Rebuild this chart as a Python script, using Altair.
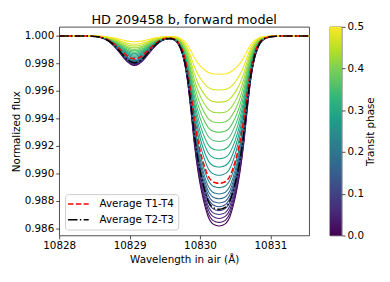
import altair as alt
import pandas as pd

# Wavelength grid (Å, in air) and normalized absorption shape
wavelength = [10828.00, 10828.20, 10828.32, 10828.42, 10828.47, 10828.52, 10828.57, 10828.62,
              10828.67, 10828.72, 10828.77, 10828.82, 10828.87, 10828.92, 10828.97, 10829.02,
              10829.07, 10829.12, 10829.17, 10829.22, 10829.27, 10829.32, 10829.37, 10829.42,
              10829.47, 10829.52, 10829.57, 10829.62, 10829.67, 10829.72, 10829.77, 10829.82,
              10829.87, 10829.92, 10829.97, 10830.02, 10830.07, 10830.12, 10830.17, 10830.22,
              10830.27, 10830.32, 10830.37, 10830.42, 10830.47, 10830.52, 10830.57, 10830.62,
              10830.67, 10830.72, 10830.77, 10830.82, 10830.87, 10830.92, 10830.97, 10831.02,
              10831.07, 10831.12, 10831.17, 10831.22, 10831.40, 10831.55]
profile = [0.0, 0.0, 0.0001, 0.0008, 0.0017, 0.0035, 0.0068, 0.0123,
           0.0210, 0.0335, 0.0503, 0.0710, 0.0940, 0.1170, 0.1368, 0.1502,
           0.1550, 0.1502, 0.1368, 0.1170, 0.0940, 0.0710, 0.0508, 0.0345,
           0.0230, 0.0163, 0.0148, 0.0185, 0.0317, 0.0658, 0.125, 0.23,
           0.39, 0.57, 0.71, 0.815, 0.895, 0.955, 0.985, 0.996,
           1.0, 0.996, 0.985, 0.955, 0.895, 0.815, 0.71, 0.57,
           0.39, 0.23, 0.125, 0.065, 0.03, 0.015, 0.008, 0.004,
           0.002, 0.001, 0.0005, 0.0, 0.0, 0.0]

# Transit phases and the minimum flux of the main line for each
phases = [0.0, 0.025, 0.05, 0.075, 0.1, 0.125, 0.15, 0.175, 0.2, 0.225, 0.25,
          0.275, 0.3, 0.325, 0.35, 0.375, 0.4, 0.425, 0.45, 0.475, 0.5]
min_flux = [0.98617, 0.98643, 0.98672, 0.98700, 0.98729, 0.98757, 0.98784, 0.98815,
            0.98850, 0.98896, 0.98986, 0.99046, 0.99106, 0.99168, 0.99232, 0.99299,
            0.99368, 0.99440, 0.99518, 0.99606, 0.99721]

avg_labels = ["Average T1-T4", "Average T2-T3"]
avg_min = [0.98927, 0.98738]
avg_colors = ["red", "black"]

x_ticks = [10828, 10829, 10830, 10831]
y_ticks = [0.986, 0.988, 0.990, 0.992, 0.994, 0.996, 0.998, 1.000]
cbar_ticks = [0.0, 0.1, 0.2, 0.3, 0.4, 0.5]
viridis = ["#440154", "#482878", "#3e4989", "#31688e", "#26828e",
           "#1f9e89", "#35b779", "#6ece58", "#b5de2b", "#fde725"]

rows = []
for ph, mn in zip(phases, min_flux):
    for w, p in zip(wavelength, profile):
        rows.append({"wl": w, "flux": 1 - (1 - mn) * p, "phase": ph})
df = pd.DataFrame(rows)

arows = []
for lab, mn in zip(avg_labels, avg_min):
    for w, p in zip(wavelength, profile):
        arows.append({"wl": w, "flux": 1 - (1 - mn) * p, "series": lab})
adf = pd.DataFrame(arows)

X = alt.X("wl:Q", scale=alt.Scale(domain=[10828, 10831.55], nice=False, zero=False),
          axis=alt.Axis(values=x_ticks, format="d", title="Wavelength in air (Å)",
                        labelFlush=False))
Y = alt.Y("flux:Q", scale=alt.Scale(domain=[0.98548, 1.00066], nice=False, zero=False),
          axis=alt.Axis(values=y_ticks, format=".3f", title="Normalized flux"))

lines = alt.Chart(df).mark_line(strokeWidth=1.1, interpolate="monotone").encode(
    x=X, y=Y,
    color=alt.Color("phase:Q", scale=alt.Scale(scheme="viridis", domain=[0, 0.5]), legend=None),
    detail="phase:N",
)

stroke_expr = "datum.value === '%s' ? '%s' : '%s'" % (avg_labels[0], avg_colors[0], avg_colors[1])
leg = alt.Legend(
    title=None, orient="bottom-left", offset=6, padding=4, fillColor="white",
    strokeColor="#cccccc", cornerRadius=3, symbolType="M-2,0H2", symbolSize=110,
    symbolStrokeWidth=1.5, symbolOffset=3.5, labelFontSize=10.5, labelOffset=15.5,
    rowPadding=4, labelColor="black", symbolFillColor="transparent",
    symbolStrokeColor=alt.ExprRef(stroke_expr),
)

avg = alt.Chart(adf).mark_line(strokeWidth=1.5, interpolate="monotone").encode(
    x=X, y=Y,
    color=alt.Color("series:N", scale=alt.Scale(domain=avg_labels, range=avg_colors),
                    legend=None),
    strokeDash=alt.StrokeDash("series:N",
                              scale=alt.Scale(domain=avg_labels,
                                              range=[[5.5, 2.4], [9.6, 2.4, 1.5, 2.4]]),
                              legend=leg),
)

main = alt.layer(lines, avg).resolve_scale(color="independent").properties(
    width=254, height=212,
    title=alt.TitleParams("HD 209458 b, forward model", offset=0))

cbar_df = pd.DataFrame({"lo": [cbar_ticks[0]], "hi": [cbar_ticks[-1]]})
cbar = alt.Chart(cbar_df).mark_rect(
    color=alt.LinearGradient(
        gradient="linear",
        stops=[alt.GradientStop(offset=i / 9, color=c) for i, c in enumerate(viridis)],
        x1=0, x2=0, y1=1, y2=0)
).encode(
    y=alt.Y("lo:Q", scale=alt.Scale(domain=[0, 0.5], nice=False, zero=False),
            axis=alt.Axis(orient="right", values=cbar_ticks, format=".1f",
                          title="Transit phase", titleAngle=270, titleBaseline="top",
                          titlePadding=2)),
    y2="hi:Q",
    x=alt.value(0), x2=alt.value(12),
).properties(width=12, height=212, title=alt.TitleParams(" ", offset=0))

chart = alt.hconcat(main, cbar, spacing=16).configure(
    font="DejaVu Sans", padding={"left": 3, "top": -2, "right": 5, "bottom": 5}
).configure_view(stroke="#222", strokeWidth=0.8).configure_axis(
    grid=False, domain=False, tickColor="#222", tickSize=3.5, tickWidth=0.8,
    labelFontSize=10.5, titleFontSize=10.5, labelColor="black", titleColor="black",
    titleFontWeight="normal", labelPadding=2, titlePadding=3
).configure_title(fontSize=13, fontWeight="normal", color="black")

chart.save("out.html", embed_options={"renderer": "svg", "actions": False})
